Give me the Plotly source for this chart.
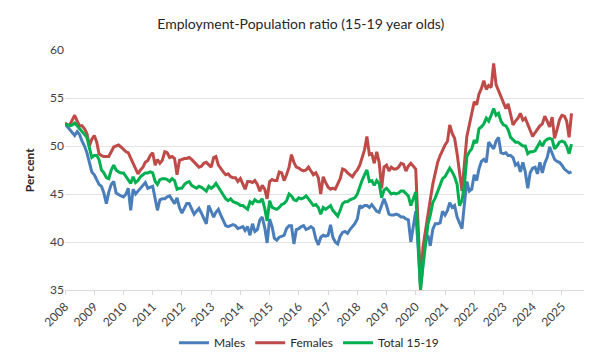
import pandas as pd
import plotly.graph_objects as go

# Monthly data, Jan 2008 - May 2025
months = pd.date_range("2008-01-01", periods=209, freq="MS")

males = [
    52.3, 52.0, 51.7, 51.4, 51.1, 51.5, 51.2, 50.5, 50.0, 49.3, 48.2, 47.3,
    47.0, 46.5, 46.0, 45.8, 45.1, 44.0, 45.2, 46.0, 46.3, 45.1, 44.9, 44.8,
    44.7, 45.0, 45.6, 43.3, 45.5, 45.0, 45.3, 45.6, 46.0, 46.2, 45.6, 45.7,
    45.8, 44.5, 43.3, 44.4, 44.5, 44.5, 44.7, 44.8, 44.4, 44.0, 44.6, 43.6,
    43.0, 43.6, 44.0, 44.0, 43.4, 42.9, 43.2, 43.5, 43.0, 42.4, 41.9, 43.8,
    43.2, 42.6, 43.1, 43.4, 42.8, 42.2, 41.7, 41.6, 41.7, 41.8, 41.7, 41.4,
    41.5, 41.6, 41.2, 41.6, 40.7, 41.9, 41.1, 41.3, 42.3, 42.6, 41.5, 39.9,
    42.4, 41.6, 40.4, 40.2, 40.5, 40.6, 40.7, 41.4, 41.7, 41.7, 39.8, 41.3,
    41.4, 41.6, 41.7, 41.3, 41.4, 41.6, 41.4, 40.3, 39.7, 40.5, 40.7, 40.6,
    40.7, 41.8, 40.5, 40.0, 39.8, 40.6, 41.0, 41.1, 40.9, 41.3, 41.6, 41.9,
    42.4, 43.8, 43.6, 43.8, 43.8, 43.6, 43.9, 43.5, 43.2, 43.1, 43.9, 44.5,
    43.8, 42.9, 42.8, 42.8, 42.9, 42.8, 42.6, 42.6, 42.4, 42.3, 40.0, 41.5,
    43.2, 39.3, 35.2, 37.8, 40.2, 40.7, 39.6, 41.3, 41.9, 41.9, 42.0, 43.2,
    42.8, 43.3, 44.1, 43.6, 43.8, 42.6, 41.9, 41.4, 44.0, 46.3, 45.3, 45.5,
    47.0, 46.4, 47.6, 48.4, 48.6, 48.3, 50.4, 50.0, 49.7, 50.5, 50.9, 49.3,
    49.2, 49.3, 49.0, 49.0, 48.8, 48.0, 48.2, 47.3, 48.3, 47.3, 45.6, 47.2,
    47.7, 47.8, 47.1, 48.3, 47.2, 48.2, 48.8, 49.9, 49.3, 48.6, 48.4, 48.3,
    48.0, 47.6, 47.4, 47.2, 47.3,
]

females = [
    52.4, 52.2, 52.2, 52.7, 53.2, 52.6, 52.1, 52.1, 51.8, 51.3, 50.0, 50.7,
    51.1, 50.4, 49.2, 49.0, 48.9, 48.9, 48.9, 49.4, 49.9, 50.0, 50.1, 49.9,
    49.6, 49.4, 49.3, 48.7, 48.2, 47.5, 47.1, 47.5, 47.8, 48.3, 48.5, 49.0,
    49.3, 48.0, 48.6, 48.2, 48.5, 49.4, 49.3, 48.8, 48.9, 48.7, 47.0, 48.5,
    48.6, 48.7, 48.7, 48.8, 48.6, 48.3, 48.0, 47.8, 47.9, 48.2, 48.3, 48.0,
    47.8, 48.8, 48.9, 48.0, 47.6, 47.3, 47.0, 47.1, 46.8, 46.7, 46.7, 46.3,
    46.6, 46.0, 45.5, 46.3, 46.3, 46.2, 46.4, 46.0, 45.3, 45.9, 45.5, 44.5,
    46.3, 46.5, 46.4, 46.4, 47.3, 47.2, 46.4, 47.0, 47.8, 49.1, 48.3, 47.8,
    47.7, 47.5, 47.4, 47.5, 47.8, 47.4, 47.0, 47.2, 46.7, 45.0, 46.8, 46.2,
    45.7, 45.5, 45.6, 45.5, 46.0, 46.6, 47.6, 47.5, 47.2, 47.0, 46.8, 47.2,
    47.5, 48.0, 48.7, 49.6, 51.0, 49.1, 49.2, 48.2, 49.4, 48.3, 45.6, 47.8,
    48.0, 47.4, 47.8, 47.6, 47.6, 47.8, 48.2, 48.1, 47.4, 47.9, 48.2, 47.9,
    47.6, 41.5, 35.6, 39.5, 41.3, 43.0, 44.4, 46.0, 47.2, 48.3, 49.0, 49.6,
    50.1, 50.5, 52.2, 51.3, 50.8, 49.2, 47.0, 45.3, 48.2, 51.0, 52.2, 53.3,
    54.6, 54.3, 55.4, 56.0, 56.8, 55.9, 56.3, 56.1, 58.6, 56.4, 55.8, 55.1,
    54.6, 53.9, 54.4, 53.4, 52.2, 52.6, 52.9, 53.4, 52.7, 52.9, 52.2, 51.6,
    51.0, 51.4, 51.8, 52.1, 52.3, 53.1, 52.6, 52.0, 53.0, 50.8, 51.7, 52.7,
    53.2, 53.1, 52.6, 50.9, 53.4,
]

total = [
    52.3, 52.2, 52.1, 52.2, 52.4, 52.1, 51.8, 51.6, 51.2, 50.9, 49.8, 48.8,
    49.0, 49.0, 48.6, 47.5, 47.2, 46.7, 46.6, 47.5, 48.0, 47.5, 47.3, 47.2,
    47.2, 46.8, 46.4, 46.1, 46.8, 46.2, 46.4, 46.8, 47.0, 47.2, 47.2, 47.3,
    47.2, 46.3, 46.0, 46.5, 46.6, 46.6, 46.5, 46.3, 46.6, 46.4, 45.5, 45.6,
    45.6, 46.0, 46.2, 46.3, 45.9, 45.7, 45.6, 45.8, 45.7, 45.5, 45.3, 45.8,
    45.6, 45.8, 46.1, 45.7, 45.3, 44.9, 44.5, 44.3, 44.5, 44.2, 44.1, 44.0,
    43.8, 43.8, 43.6, 43.4, 44.2, 44.0, 44.4, 44.2, 44.2, 44.5, 43.5, 42.2,
    44.3, 43.6, 43.5, 43.4, 43.6, 43.9, 44.0, 44.3, 45.0, 44.8, 44.4, 44.3,
    44.6, 44.5, 44.6, 44.8, 44.5, 44.1, 43.8, 43.9, 43.6, 42.9, 43.6, 43.4,
    43.6, 43.8, 43.3, 43.0, 42.7, 43.3, 44.0, 44.2, 44.2, 44.4, 44.5, 44.6,
    45.0, 45.8, 46.4, 47.0, 47.5, 46.3, 46.4, 45.9, 46.4, 46.1, 44.6, 45.4,
    45.6, 45.3, 45.0, 45.1, 45.0, 45.1, 45.3, 45.3, 45.0, 44.8, 43.8, 44.4,
    45.2, 40.0, 35.0, 37.5, 40.0, 41.8, 42.8, 44.1, 44.6, 45.3, 46.0, 46.6,
    46.8, 47.2, 47.7, 47.3, 46.8, 46.0, 43.8, 44.3, 46.0, 48.9, 49.4, 49.7,
    50.6, 50.3, 51.8, 52.0, 52.3, 52.9, 52.6, 53.2, 53.9, 53.2, 53.4, 52.6,
    52.2, 52.1, 51.7, 50.9, 50.7, 50.4, 50.4, 50.2, 50.0, 50.0, 49.2, 49.4,
    49.4, 49.5, 49.9, 50.4, 50.0, 50.5, 50.7, 50.8, 50.7, 49.7, 50.0, 50.4,
    50.5, 50.4, 50.0, 49.2, 50.2,
]

year_labels = [str(y) for y in range(2008, 2026)]
year_ticks = [f"{y}-01-01" for y in range(2008, 2026)]

FONT = "Lato"
fig = go.Figure()
fig.add_trace(go.Scatter(x=months, y=males, name="Males", mode="lines",
                         line=dict(color="#4A7EBB", width=3)))
fig.add_trace(go.Scatter(x=months, y=females, name="Females", mode="lines",
                         line=dict(color="#BE4B48", width=3)))
fig.add_trace(go.Scatter(x=months, y=total, name="Total 15-19", mode="lines",
                         line=dict(color="#00B050", width=3)))

fig.update_layout(
    width=600, height=361,
    margin=dict(l=57, r=24, t=42, b=74),
    paper_bgcolor="white", plot_bgcolor="white",
    font=dict(family=FONT, size=12, color="#404040"),
    title=dict(text="Employment-Population ratio (15-19 year olds)",
               x=0.488, xanchor="center", y=0.955, yanchor="middle",
               font=dict(family=FONT, size=14, color="#262626")),
    showlegend=True,
    legend=dict(orientation="h", x=0.47, xanchor="center", y=-0.22, yanchor="middle",
                font=dict(family=FONT, size=12, color="#262626"),
                itemwidth=30, tracegroupgap=0, bgcolor="rgba(0,0,0,0)"),
    xaxis=dict(type="date", range=["2008-01-01", "2025-10-04"],
               tickvals=year_ticks, ticktext=year_labels, tickangle=-45,
               ticks="outside", ticklen=4, tickcolor="#D9D9D9",
               showgrid=False, showline=True, linecolor="#D9D9D9", linewidth=1,
               zeroline=False, automargin=False,
               tickfont=dict(family=FONT, size=12, color="#404040")),
    yaxis=dict(range=[35, 60], dtick=5, tick0=35, showgrid=True,
               gridcolor="#E3E3E3", gridwidth=1, zeroline=False, showline=False,
               ticks="", automargin=False,
               tickfont=dict(family=FONT, size=12, color="#404040")),
)
fig.add_annotation(text="<b>Per cent</b>", textangle=-90, xref="paper", yref="paper",
                   x=-0.069, y=0.5, xanchor="center", yanchor="middle", showarrow=False,
                   font=dict(family=FONT, size=12, color="#262626"))

fig.write_html("out.html")
